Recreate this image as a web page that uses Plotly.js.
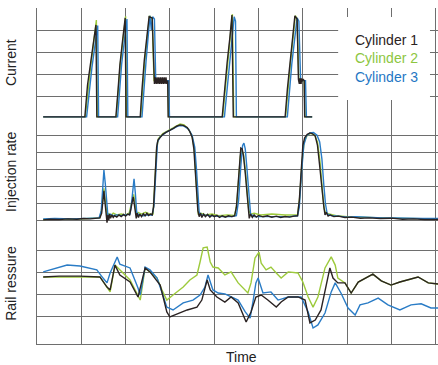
<!DOCTYPE html>
<html>
<head>
<meta charset="utf-8">
<script src="https://cdn.plot.ly/plotly-3.0.1.min.js"></script>
<style>html,body{margin:0;padding:0;background:#fff;}#chart{width:438px;height:365px;}</style>
</head>
<body>
<div id="chart"></div>
<script>
// ---- Series names / colours ----
const seriesNames = ["Cylinder 1", "Cylinder 2", "Cylinder 3"];
const seriesColors = ["#2a2222", "#9dca3c", "#2a7cc6"];
const panelTitles = ["Current", "Injection rate", "Rail ressure"];
const xTitle = "Time";

// ---- Current (time, value) ----
const currentCyl1 = [[0.14,0.05],[1.08,0.05],[1.14,1.50],[1.20,2.30],[1.27,3.30],[1.33,4.23],[1.35,0.05],
  [1.78,0.05],[1.83,1.30],[1.87,2.40],[1.93,3.50],[1.99,4.55],[2.01,0.05],
  [2.33,0.05],[2.37,1.30],[2.42,2.60],[2.48,3.70],[2.53,4.60],[2.60,4.55],
  [2.63,1.85],[2.65,1.55],[2.67,1.85],[2.69,1.55],[2.71,1.85],[2.73,1.55],[2.75,1.85],[2.77,1.55],[2.79,1.85],
  [2.81,1.55],[2.83,1.85],[2.85,1.55],[2.87,1.85],[2.89,1.55],[2.91,1.85],[2.93,1.55],[2.95,1.70],[2.96,0.05],
  [4.18,0.05],[4.23,1.30],[4.29,2.50],[4.35,3.60],[4.40,4.68],[4.43,0.05],
  [5.60,0.05],[5.65,1.30],[5.71,2.50],[5.77,3.60],[5.82,4.64],[5.87,4.50],
  [5.90,1.75],[5.92,1.55],[5.93,1.80],[5.94,1.55],[5.95,1.80],[5.96,1.55],[5.97,1.80],[5.99,1.70],[6.01,1.75],[6.03,1.70],
  [6.04,0.05],[6.21,0.05]];
const currentCyl2 = [[0.14,0.05],[1.09,0.05],[1.21,2.30],[1.34,4.45],[1.36,0.05],
  [1.79,0.05],[1.88,2.45],[2.00,4.62],[2.02,0.05],
  [2.34,0.05],[2.43,2.55],[2.54,4.65],[2.60,4.50],[2.64,1.70],[2.95,1.70],[2.97,0.05],
  [4.19,0.05],[4.30,2.50],[4.41,4.72],[4.44,0.05],
  [5.61,0.05],[5.72,2.50],[5.83,4.65],[5.87,4.50],[5.91,1.70],[6.03,1.70],[6.05,0.05],[6.21,0.05]];
const currentCyl3 = [[0.14,0.05],[1.12,0.05],[1.24,2.30],[1.37,4.20],[1.39,0.05],
  [1.82,0.05],[1.91,2.45],[2.03,4.50],[2.05,0.05],
  [2.37,0.05],[2.46,2.55],[2.55,4.65],[2.58,4.00],[2.61,4.60],[2.65,4.50],[2.68,1.70],[2.97,1.70],[2.99,0.05],
  [4.23,0.05],[4.34,2.45],[4.45,4.60],[4.48,4.40],[4.50,0.05],
  [5.65,0.05],[5.75,2.45],[5.87,4.55],[5.91,4.40],[5.95,1.70],[6.06,1.70],[6.08,0.05],[6.21,0.05]];

// ---- Injection rate (time, value) ----
const injectionCyl1 = [[0.14,0.06],[0.30,0.10],[0.50,0.08],[0.70,0.12],[0.90,0.10],[1.05,0.14],[1.20,0.12],[1.35,0.16],
  [1.42,0.18],[1.46,0.45],[1.49,1.30],[1.51,1.75],[1.53,1.20],[1.56,0.60],[1.58,-0.10],[1.60,0.35],[1.62,0.05],
  [1.64,0.40],[1.66,0.15],[1.69,0.35],[1.72,0.20],[1.75,0.30],[1.80,0.22],[1.85,0.35],[1.90,0.25],[1.95,0.38],
  [2.00,0.28],[2.05,0.40],[2.09,0.35],[2.12,0.70],[2.15,1.20],[2.17,1.40],[2.19,1.10],[2.22,0.55],[2.24,0.15],
  [2.26,0.45],[2.29,0.20],[2.32,0.40],[2.36,0.25],[2.40,0.42],[2.44,0.30],[2.48,0.45],[2.52,0.32],[2.56,0.40],
  [2.60,0.35],[2.63,0.80],[2.66,2.60],[2.70,4.30],[2.73,4.72],[2.78,4.90],[2.84,5.05],[2.92,5.18],[3.00,5.28],
  [3.08,5.40],[3.15,5.52],[3.23,5.60],[3.30,5.57],[3.39,5.45],[3.45,5.20],[3.50,4.90],[3.54,4.20],[3.57,3.00],
  [3.60,1.40],[3.63,0.60],[3.66,0.25],[3.69,0.45],[3.72,0.20],[3.76,0.40],[3.80,0.25],[3.85,0.38],[3.90,0.22],
  [3.95,0.35],[4.00,0.25],[4.06,0.32],[4.12,0.20],[4.18,0.30],[4.25,0.22],[4.32,0.30],[4.40,0.25],[4.46,0.30],
  [4.50,0.80],[4.54,2.20],[4.57,3.60],[4.60,4.25],[4.63,4.20],[4.66,3.80],[4.70,2.80],[4.74,1.60],[4.77,0.70],
  [4.79,0.15],[4.82,0.40],[4.86,0.20],[4.90,0.35],[4.95,0.22],[5.00,0.32],[5.10,0.24],[5.20,0.30],[5.30,0.22],
  [5.40,0.28],[5.50,0.20],[5.60,0.26],[5.70,0.22],[5.80,0.28],[5.88,0.30],[5.92,1.20],[5.96,3.00],[6.00,4.40],
  [6.04,4.85],[6.10,5.05],[6.16,5.13],[6.22,5.08],[6.28,4.95],[6.33,4.40],[6.38,3.20],[6.43,1.80],[6.47,0.90],
  [6.50,0.35],[6.53,0.50],[6.57,0.28],[6.62,0.35],[6.70,0.25],[6.80,0.28],[6.95,0.20],[7.10,0.22],[7.30,0.16],
  [7.50,0.18],[7.75,0.14],[8.00,0.16],[8.25,0.10],[8.50,0.12],[8.75,0.08],[9.05,0.08]];
const injectionCyl2 = [[0.14,0.08],[0.40,0.12],[0.80,0.10],[1.20,0.14],[1.42,0.18],[1.46,0.70],[1.49,1.60],[1.51,1.90],
  [1.53,1.40],[1.56,0.70],[1.59,0.10],[1.62,0.45],[1.66,0.30],[1.72,0.45],[1.80,0.35],[1.90,0.40],[2.00,0.35],
  [2.08,0.45],[2.12,0.90],[2.15,1.40],[2.18,1.55],[2.21,1.10],[2.24,0.35],[2.28,0.50],[2.36,0.40],[2.45,0.50],
  [2.55,0.40],[2.62,0.40],[2.66,2.20],[2.70,4.20],[2.74,4.80],[2.84,5.10],[3.00,5.32],[3.15,5.55],[3.23,5.65],
  [3.32,5.60],[3.42,5.35],[3.50,4.95],[3.55,4.20],[3.58,2.80],[3.61,1.20],[3.64,0.40],[3.70,0.45],[3.80,0.35],
  [3.95,0.40],[4.10,0.30],[4.30,0.35],[4.46,0.32],[4.51,1.00],[4.55,2.60],[4.59,3.80],[4.62,4.10],[4.66,3.90],
  [4.70,3.00],[4.74,1.80],[4.78,0.60],[4.82,0.40],[4.90,0.45],[5.05,0.35],[5.30,0.40],[5.60,0.35],[5.88,0.35],
  [5.93,1.40],[5.98,3.40],[6.03,4.60],[6.10,5.00],[6.18,5.10],[6.26,5.02],[6.33,4.60],[6.39,3.40],[6.44,1.80],
  [6.48,0.70],[6.52,0.45],[6.60,0.40],[6.75,0.30],[7.00,0.25],[7.40,0.20],[7.80,0.18],[8.30,0.15],[9.05,0.12]];
const injectionCyl3 = [[0.14,0.12],[0.40,0.15],[0.80,0.12],[1.20,0.15],[1.40,0.18],[1.45,0.60],[1.48,2.00],[1.51,2.97],
  [1.54,2.20],[1.57,0.90],[1.60,0.30],[1.65,0.40],[1.72,0.30],[1.80,0.35],[1.90,0.30],[2.00,0.35],[2.10,0.40],
  [2.14,1.20],[2.17,2.20],[2.19,2.45],[2.22,1.60],[2.25,0.50],[2.30,0.35],[2.40,0.30],[2.50,0.35],[2.60,0.35],
  [2.64,0.90],[2.68,3.00],[2.72,4.60],[2.78,4.90],[2.90,5.15],[3.05,5.35],[3.20,5.55],[3.30,5.55],[3.42,5.35],
  [3.50,5.00],[3.56,4.30],[3.60,3.00],[3.63,1.40],[3.66,0.50],[3.72,0.35],[3.85,0.30],[4.00,0.28],[4.20,0.25],
  [4.40,0.25],[4.50,0.30],[4.55,1.20],[4.60,3.20],[4.64,4.40],[4.67,4.54],[4.70,4.20],[4.74,3.00],[4.78,1.60],
  [4.82,0.40],[4.90,0.25],[5.10,0.25],[5.40,0.22],[5.70,0.25],[5.88,0.30],[5.92,0.80],[5.97,2.80],[6.02,4.40],
  [6.08,4.95],[6.16,5.13],[6.24,5.15],[6.32,5.00],[6.38,4.60],[6.43,3.60],[6.47,2.20],[6.51,1.00],[6.55,0.40],
  [6.65,0.30],[6.80,0.28],[7.00,0.22],[7.20,0.25],[7.50,0.20],[7.80,0.18],[8.10,0.17],[8.40,0.15],[8.70,0.15],[9.05,0.15]];

// ---- Rail pressure (time, value) ----
const railCyl1 = [[0.14,2.82],[0.50,2.86],[0.97,2.86],[1.42,2.82],[1.58,2.36],[1.65,2.23],[1.76,3.36],[1.87,2.91],
  [2.10,2.59],[2.28,1.91],[2.44,3.23],[2.55,3.05],[2.78,2.45],[2.84,1.91],[2.93,1.23],[3.00,1.00],[3.23,1.18],
  [3.39,1.32],[3.61,1.45],[3.72,1.77],[3.84,2.68],[3.91,2.23],[4.06,1.91],[4.24,1.68],[4.38,1.91],[4.54,1.64],
  [4.72,0.77],[4.83,1.23],[4.94,1.91],[5.06,2.00],[5.21,1.77],[5.40,1.45],[5.51,1.68],[5.67,1.91],[5.89,1.91],
  [6.05,1.77],[6.16,0.73],[6.28,0.86],[6.41,1.32],[6.52,2.32],[6.61,3.23],[6.68,2.77],[6.79,2.55],[6.95,2.55],
  [7.09,2.09],[7.25,2.59],[7.40,2.77],[7.58,2.95],[7.77,2.64],[7.99,2.45],[8.19,2.59],[8.37,2.68],[8.60,2.82],
  [8.83,2.55],[9.05,2.50]];
const railCyl2 = [[0.14,2.82],[0.97,2.82],[1.42,2.82],[1.65,2.14],[1.76,3.36],[2.10,2.68],[2.33,1.77],[2.44,3.23],
  [2.71,2.77],[2.84,2.14],[2.93,1.77],[3.07,2.00],[3.30,2.36],[3.45,2.68],[3.61,2.91],[3.68,3.50],[3.75,4.14],
  [3.84,4.18],[3.91,3.50],[3.97,3.27],[4.09,3.23],[4.24,2.91],[4.38,3.05],[4.54,2.55],[4.76,2.09],[4.83,2.55],
  [4.92,3.68],[5.01,3.95],[5.06,3.45],[5.17,3.14],[5.28,3.27],[5.40,3.00],[5.51,2.77],[5.67,3.05],[5.89,3.00],
  [6.00,2.59],[6.12,1.91],[6.23,1.45],[6.34,1.91],[6.50,3.23],[6.64,3.73],[6.73,3.36],[6.79,2.77],[6.95,2.55],
  [7.09,2.09],[7.25,2.59],[7.40,2.77],[7.58,2.95],[7.77,2.64],[7.99,2.45],[8.19,2.59],[8.37,2.68],[8.60,2.82],
  [8.83,2.55],[9.05,2.50]];
const railCyl3 = [[0.14,3.05],[0.40,3.20],[0.68,3.36],[0.97,3.32],[1.35,3.14],[1.49,2.77],[1.58,2.55],[1.65,3.00],
  [1.81,3.73],[1.87,3.40],[2.10,3.23],[2.28,2.32],[2.33,2.00],[2.40,2.80],[2.44,3.27],[2.55,3.14],[2.71,2.77],
  [2.84,2.00],[2.93,1.45],[3.07,1.32],[3.30,1.64],[3.52,1.77],[3.68,2.00],[3.79,2.36],[3.86,2.91],[3.97,2.23],
  [4.09,2.09],[4.24,2.05],[4.38,1.91],[4.54,1.77],[4.70,1.23],[4.81,0.95],[4.88,1.77],[4.94,2.55],[4.99,2.77],
  [5.10,2.09],[5.28,2.14],[5.44,1.77],[5.67,1.91],[5.96,1.91],[6.12,1.23],[6.23,0.50],[6.34,0.64],[6.50,1.18],
  [6.64,2.14],[6.73,2.55],[6.86,2.09],[7.02,1.41],[7.18,1.09],[7.29,1.55],[7.47,1.64],[7.70,1.86],[7.92,1.55],
  [8.19,1.32],[8.44,1.55],[8.67,1.60],[8.89,1.41],[9.05,1.41]];

// ---- Grid positions (axis values) ----
const timeGrid = [0,1,2,3,4,5,6,7,8,9];
const currentGrid = [0,1,2,3,4,5];
const injectionGrid = [0,1,2,3,4,5,6];
const railGrid = [1,2,3,4,5];

const panels = [
  {data:[currentCyl1,currentCyl2,currentCyl3], yaxis:'y'},
  {data:[injectionCyl1,injectionCyl2,injectionCyl3], yaxis:'y2'},
  {data:[railCyl1,railCyl2,railCyl3], yaxis:'y3'}
];
const drawOrder = [1,2,0];
const traces = [];
panels.forEach(p => {
  drawOrder.forEach(i => {
    traces.push({
      type:'scatter', mode:'lines', name:seriesNames[i],
      x:p.data[i].map(d=>d[0]), y:p.data[i].map(d=>d[1]),
      xaxis:'x', yaxis:p.yaxis,
      line:{color:seriesColors[i], width:1.4},
      showlegend:false, hoverinfo:'skip'
    });
  });
});

const gridColor = '#6e6e6e';
const yBase = {showticklabels:false, ticks:'', zeroline:false, showgrid:true, gridcolor:gridColor, gridwidth:1,
  tickmode:'array', showline:true, linecolor:gridColor, linewidth:1, anchor:'x', fixedrange:true};

const layout = {
  width:438, height:365,
  margin:{l:37, r:0, t:8, b:21},
  paper_bgcolor:'#ffffff', plot_bgcolor:'#ffffff',
  font:{family:'Liberation Sans, Arial, sans-serif', color:'#222222', size:14},
  showlegend:false,
  xaxis:{range:[0,9.05], tickmode:'array', tickvals:timeGrid, showticklabels:false, ticks:'',
    zeroline:false, showgrid:true, gridcolor:gridColor, gridwidth:1, showline:true, linecolor:gridColor,
    anchor:'y3', fixedrange:true},
  yaxis: Object.assign({}, yBase, {domain:[0.6726,1], range:[0,5], tickvals:currentGrid}),
  yaxis2: Object.assign({}, yBase, {domain:[0.3423,0.6726], range:[-0.47,6], tickvals:injectionGrid}),
  yaxis3: Object.assign({}, yBase, {domain:[0,0.3423], range:[-0.227,5], tickvals:railGrid}),
  shapes:[
    {type:'rect', xref:'paper', yref:'paper', x0:0.751, x1:0.98, y0:0.726, y1:0.973,
     fillcolor:'#ffffff', line:{width:0}, layer:'above'}
  ],
  annotations:[
    {text:seriesNames[0], xref:'paper', yref:'paper', x:0.788, y:0.905, xanchor:'left', yanchor:'middle',
     showarrow:false, font:{size:14, color:seriesColors[0]}},
    {text:seriesNames[1], xref:'paper', yref:'paper', x:0.788, y:0.851, xanchor:'left', yanchor:'middle',
     showarrow:false, font:{size:14, color:'#8dc63f'}},
    {text:seriesNames[2], xref:'paper', yref:'paper', x:0.788, y:0.795, xanchor:'left', yanchor:'middle',
     showarrow:false, font:{size:14, color:'#1f77c4'}},
    {text:panelTitles[0], xref:'paper', yref:'paper', x:-0.065, y:0.839, xanchor:'center', yanchor:'middle',
     textangle:-90, showarrow:false, font:{size:14}},
    {text:panelTitles[1], xref:'paper', yref:'paper', x:-0.065, y:0.512, xanchor:'center', yanchor:'middle',
     textangle:-90, showarrow:false, font:{size:14}},
    {text:panelTitles[2], xref:'paper', yref:'paper', x:-0.065, y:0.182, xanchor:'center', yanchor:'middle',
     textangle:-90, showarrow:false, font:{size:14}},
    {text:xTitle, xref:'paper', yref:'paper', x:0.511, y:-0.039, xanchor:'center', yanchor:'middle',
     showarrow:false, font:{size:14}}
  ]
};

Plotly.newPlot('chart', traces, layout, {staticPlot:true, displayModeBar:false});
</script>
</body>
</html>
